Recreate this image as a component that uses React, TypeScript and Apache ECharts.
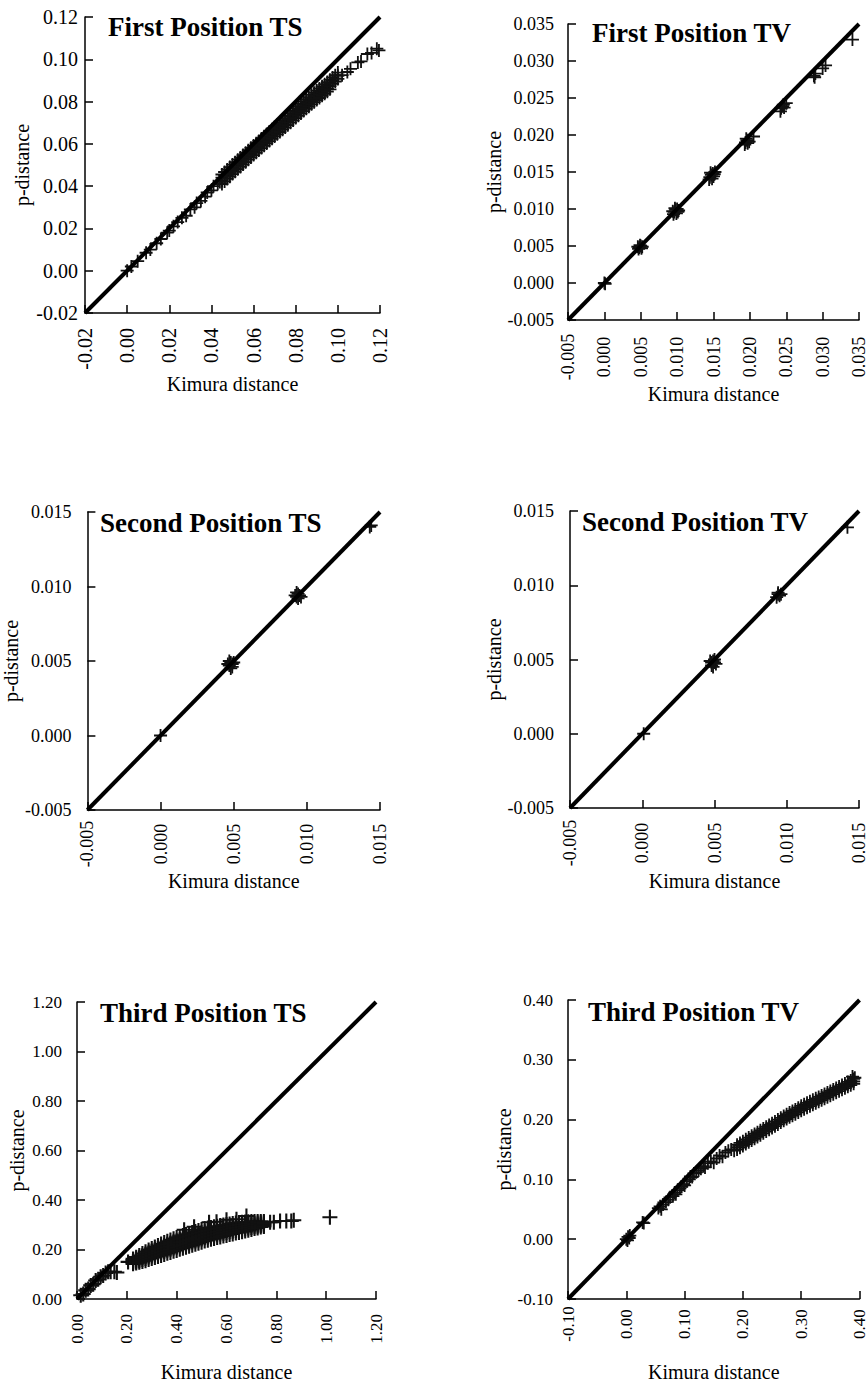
import React, { useEffect, useRef } from "react";
import * as echarts from "echarts";

// ---------- text ----------
const panelTitles = [
  "First Position TS",
  "First Position TV",
  "Second Position TS",
  "Second Position TV",
  "Third Position TS",
  "Third Position TV",
];
const xAxisName = "Kimura distance";
const yAxisName = "p-distance";

// ---------- axis scales (same for x and y in every panel) ----------
const axisMin = [-0.02, -0.005, -0.005, -0.005, 0, -0.1];
const axisMax = [0.12, 0.035, 0.015, 0.015, 1.2, 0.4];
const axisStep = [0.02, 0.005, 0.005, 0.005, 0.2, 0.1];
const labelDecimals = [2, 3, 3, 3, 2, 2];

// ---------- data: [Kimura distance, p-distance] ----------
// isolated points
const firstTSPoints = [
  [0.0, 0.0], [0.002, 0.002], [0.005, 0.0045], [0.009, 0.0085], [0.011, 0.010], [0.014, 0.013],
  [0.016, 0.015], [0.019, 0.018], [0.020, 0.019], [0.022, 0.021], [0.024, 0.023], [0.026, 0.025],
  [0.028, 0.026], [0.030, 0.029], [0.032, 0.030], [0.033, 0.032], [0.035, 0.033], [0.037, 0.035],
  [0.038, 0.037], [0.040, 0.038], [0.041, 0.040], [0.043, 0.041], [0.044, 0.042],
  [0.102, 0.0925], [0.1045, 0.094], [0.106, 0.0955], [0.1095, 0.0985], [0.111, 0.099],
  [0.114, 0.1025], [0.116, 0.103], [0.1185, 0.105], [0.1195, 0.1042],
];
// dense band: [Kimura distance, p-distance values observed at that Kimura distance...]
const firstTSBand = [
  [0.045, 0.0455, 0.044, 0.0425, 0.041],
  [0.04625, 0.0467, 0.0452, 0.0437, 0.0422],
  [0.0475, 0.0479, 0.0464, 0.0449, 0.0434],
  [0.04875, 0.049, 0.0475, 0.046, 0.0445],
  [0.05, 0.0502, 0.0487, 0.0472, 0.0457],
  [0.05125, 0.0513, 0.0498, 0.0483, 0.0468],
  [0.0525, 0.0525, 0.051, 0.0495, 0.048],
  [0.05375, 0.0536, 0.0521, 0.0506, 0.0491],
  [0.055, 0.0547, 0.0532, 0.0517, 0.0502],
  [0.05625, 0.0558, 0.0543, 0.0528, 0.0513],
  [0.0575, 0.057, 0.0555, 0.054, 0.0525],
  [0.05875, 0.0581, 0.0566, 0.0551, 0.0536],
  [0.06, 0.0592, 0.0577, 0.0562, 0.0547],
  [0.06125, 0.0603, 0.0588, 0.0573, 0.0558],
  [0.0625, 0.0614, 0.0599, 0.0584, 0.0569],
  [0.06375, 0.0625, 0.061, 0.0595, 0.058],
  [0.065, 0.0636, 0.0621, 0.0606, 0.0591],
  [0.06625, 0.0647, 0.0632, 0.0617, 0.0602],
  [0.0675, 0.0658, 0.0643, 0.0628, 0.0613],
  [0.06875, 0.0669, 0.0654, 0.0639, 0.0624],
  [0.07, 0.068, 0.0665, 0.065, 0.0635],
  [0.07125, 0.069, 0.0675, 0.066, 0.0645],
  [0.0725, 0.0701, 0.0686, 0.0671, 0.0656],
  [0.07375, 0.0712, 0.0697, 0.0682, 0.0667],
  [0.075, 0.0722, 0.0707, 0.0692, 0.0677],
  [0.07625, 0.0733, 0.0718, 0.0703, 0.0688],
  [0.0775, 0.0745, 0.073, 0.0715, 0.07],
  [0.07875, 0.0756, 0.0741, 0.0726, 0.0711],
  [0.08, 0.0767, 0.0752, 0.0737, 0.0722],
  [0.08125, 0.0778, 0.0763, 0.0748, 0.0733],
  [0.0825, 0.0789, 0.0774, 0.0759, 0.0744],
  [0.08375, 0.08, 0.0785, 0.077, 0.0755],
  [0.085, 0.0811, 0.0796, 0.0781, 0.0766],
  [0.08625, 0.0821, 0.0806, 0.0791, 0.0776],
  [0.0875, 0.0832, 0.0817, 0.0802, 0.0787],
  [0.08875, 0.0842, 0.0827, 0.0812, 0.0797],
  [0.09, 0.0852, 0.0837, 0.0822, 0.0807],
  [0.09125, 0.0862, 0.0847, 0.0832, 0.0817],
  [0.0925, 0.0872, 0.0857, 0.0842, 0.0827],
  [0.09375, 0.0882, 0.0867, 0.0852, 0.0837],
  [0.095, 0.0892, 0.0877, 0.0862, 0.0847],
  [0.09625, 0.0903, 0.0888, 0.0873, 0.0858],
  [0.0975, 0.0914, 0.0899, 0.0884],
  [0.09875, 0.0925, 0.091, 0.0895],
  [0.1, 0.0937, 0.0922, 0.0907],
];

const firstTVPoints = [
  [0.0, 0.0], [0.0001, -0.0001],
  [0.0048, 0.0048], [0.005, 0.005], [0.0047, 0.0046], [0.0051, 0.0047], [0.0049, 0.0051], [0.0052, 0.0049], [0.0046, 0.0049],
  [0.0096, 0.0096], [0.0098, 0.0099], [0.01, 0.01], [0.0095, 0.0093], [0.0099, 0.0094], [0.0102, 0.0098], [0.0097, 0.0101], [0.0101, 0.0096], [0.0094, 0.0097],
  [0.0145, 0.0143], [0.0147, 0.0146], [0.0149, 0.0148], [0.0144, 0.014], [0.0148, 0.0141], [0.0151, 0.0147], [0.0146, 0.0149], [0.015, 0.0144], [0.0152, 0.015],
  [0.0194, 0.019], [0.0196, 0.0193], [0.0193, 0.0187], [0.0197, 0.0189], [0.0195, 0.0195], [0.0205, 0.0198], [0.0199, 0.0191],
  [0.0243, 0.0236], [0.0245, 0.0239], [0.0242, 0.0232], [0.0247, 0.0237], [0.025, 0.0243], [0.0246, 0.0241],
  [0.0288, 0.028], [0.029, 0.0283], [0.0289, 0.0278], [0.03, 0.029], [0.0304, 0.0294],
  [0.0341, 0.0329],
];

const secondTSPoints = [
  [0.0, 0.0],
  [0.0047, 0.0047], [0.0048, 0.0049], [0.0049, 0.0048], [0.0047, 0.005], [0.0049, 0.0046], [0.005, 0.0049], [0.0046, 0.0048], [0.0048, 0.0045],
  [0.0093, 0.0093], [0.0094, 0.0095], [0.0095, 0.0094], [0.0093, 0.0096], [0.0096, 0.0093], [0.0094, 0.0092], [0.0092, 0.0094],
  [0.0143, 0.014], [0.0144, 0.0141],
];

const secondTVPoints = [
  [0.0001, 0.0],
  [0.0048, 0.0048], [0.0049, 0.0049], [0.005, 0.0048], [0.0048, 0.0046], [0.0051, 0.0047], [0.0049, 0.0045], [0.0047, 0.0049], [0.005, 0.005],
  [0.0094, 0.0094], [0.0095, 0.0093], [0.0093, 0.0092], [0.0096, 0.0094], [0.0094, 0.0095],
  [0.0142, 0.0139],
];

const thirdTSPoints = [
  [0.015, 0.015], [0.025, 0.02], [0.035, 0.035], [0.045, 0.04], [0.055, 0.055], [0.065, 0.06], [0.075, 0.075],
  [0.085, 0.08], [0.095, 0.09], [0.105, 0.095], [0.115, 0.105], [0.125, 0.11], [0.135, 0.11], [0.15, 0.11], [0.16, 0.107],
  [0.205, 0.15],
  [0.43, 0.28], [0.47, 0.292], [0.53, 0.31], [0.56, 0.312], [0.6, 0.32], [0.64, 0.322], [0.68, 0.335],
  [0.775, 0.31], [0.79, 0.31], [0.815, 0.315], [0.84, 0.315], [0.86, 0.315], [0.87, 0.318], [1.015, 0.33],
];
const thirdTSBand = [
  [0.225, 0.162, 0.157, 0.152, 0.147, 0.142],
  [0.2375, 0.169, 0.163, 0.157, 0.151, 0.145],
  [0.25, 0.176, 0.169, 0.162, 0.155, 0.148],
  [0.2625, 0.184, 0.176, 0.168, 0.16, 0.152],
  [0.275, 0.191, 0.182, 0.173, 0.164, 0.155],
  [0.2875, 0.198, 0.189, 0.179, 0.17, 0.16],
  [0.3, 0.204, 0.194, 0.184, 0.174, 0.164],
  [0.3125, 0.21, 0.2, 0.189, 0.179, 0.168],
  [0.325, 0.216, 0.205, 0.194, 0.183, 0.172],
  [0.3375, 0.222, 0.211, 0.199, 0.188, 0.176],
  [0.35, 0.228, 0.216, 0.204, 0.192, 0.18],
  [0.3625, 0.233, 0.221, 0.209, 0.197, 0.185],
  [0.375, 0.238, 0.226, 0.213, 0.201, 0.188],
  [0.3875, 0.243, 0.231, 0.218, 0.206, 0.193],
  [0.4, 0.248, 0.235, 0.222, 0.209, 0.196],
  [0.4125, 0.253, 0.24, 0.227, 0.214, 0.201],
  [0.425, 0.257, 0.244, 0.231, 0.218, 0.205],
  [0.4375, 0.261, 0.248, 0.235, 0.222, 0.209],
  [0.45, 0.265, 0.252, 0.239, 0.226, 0.213],
  [0.4625, 0.269, 0.256, 0.243, 0.23, 0.217],
  [0.475, 0.273, 0.26, 0.247, 0.234, 0.221],
  [0.4875, 0.277, 0.264, 0.251, 0.238, 0.225],
  [0.5, 0.281, 0.268, 0.255, 0.242, 0.229],
  [0.5125, 0.284, 0.272, 0.259, 0.247, 0.234],
  [0.525, 0.287, 0.275, 0.262, 0.25, 0.237],
  [0.5375, 0.289, 0.277, 0.265, 0.253, 0.241],
  [0.55, 0.292, 0.28, 0.268, 0.256, 0.244],
  [0.5625, 0.294, 0.283, 0.271, 0.26, 0.248],
  [0.575, 0.297, 0.286, 0.274, 0.263, 0.251],
  [0.5875, 0.299, 0.288, 0.277, 0.266, 0.255],
  [0.6, 0.301, 0.29, 0.279, 0.268, 0.257],
  [0.6125, 0.303, 0.293, 0.282, 0.272, 0.261],
  [0.625, 0.305, 0.295, 0.284, 0.274, 0.263],
  [0.6375, 0.307, 0.297, 0.287, 0.277, 0.267],
  [0.65, 0.309, 0.299, 0.289, 0.279, 0.269],
  [0.6625, 0.31, 0.301, 0.291, 0.282, 0.272],
  [0.675, 0.311, 0.302, 0.293, 0.284, 0.275],
  [0.6875, 0.312, 0.304, 0.295, 0.287, 0.278],
  [0.7, 0.313, 0.305, 0.297, 0.289, 0.281],
  [0.7125, 0.313, 0.306, 0.299, 0.292, 0.285],
  [0.725, 0.313, 0.307, 0.3, 0.294, 0.287],
  [0.7375, 0.313, 0.308, 0.302, 0.297, 0.291],
  [0.75, 0.313, 0.308, 0.303, 0.298, 0.293],
];

const thirdTVPoints = [
  [0.0, 0.0], [0.003, 0.004], [0.005, 0.002], [0.002, -0.002], [0.006, 0.006], [0.028, 0.028], [0.03, 0.027],
  [0.055, 0.052], [0.058, 0.055], [0.06, 0.05], [0.063, 0.058], [0.068, 0.062], [0.072, 0.066], [0.075, 0.07],
  [0.08, 0.072], [0.083, 0.078], [0.085, 0.075], [0.088, 0.082], [0.092, 0.085], [0.095, 0.088], [0.098, 0.092],
  [0.1, 0.09], [0.104, 0.097], [0.108, 0.1], [0.11, 0.105], [0.113, 0.104], [0.116, 0.11], [0.12, 0.112],
  [0.124, 0.115], [0.128, 0.118], [0.132, 0.122], [0.135, 0.12], [0.14, 0.127], [0.145, 0.13], [0.15, 0.128],
  [0.155, 0.135], [0.16, 0.14], [0.165, 0.138], [0.17, 0.145], [0.175, 0.148], [0.18, 0.15], [0.185, 0.148],
  [0.392, 0.27], [0.388, 0.272],
];
const thirdTVBand = [
  [0.19, 0.158, 0.154, 0.15],
  [0.195, 0.161, 0.157, 0.153],
  [0.2, 0.164, 0.16, 0.156],
  [0.205, 0.167, 0.163, 0.159],
  [0.21, 0.17, 0.166, 0.162],
  [0.215, 0.173, 0.169, 0.165],
  [0.22, 0.176, 0.172, 0.168],
  [0.225, 0.179, 0.175, 0.171],
  [0.23, 0.182, 0.178, 0.174],
  [0.235, 0.185, 0.181, 0.177],
  [0.24, 0.188, 0.184, 0.18],
  [0.245, 0.191, 0.187, 0.183],
  [0.25, 0.194, 0.19, 0.186],
  [0.255, 0.197, 0.193, 0.189],
  [0.26, 0.2, 0.196, 0.192],
  [0.265, 0.203, 0.199, 0.195],
  [0.27, 0.206, 0.202, 0.198],
  [0.275, 0.209, 0.205, 0.201],
  [0.28, 0.212, 0.208, 0.204],
  [0.285, 0.2145, 0.2105, 0.2065],
  [0.29, 0.217, 0.213, 0.209],
  [0.295, 0.22, 0.216, 0.212],
  [0.3, 0.223, 0.219, 0.215],
  [0.305, 0.2255, 0.2215, 0.2175],
  [0.31, 0.228, 0.224, 0.22],
  [0.315, 0.2305, 0.2265, 0.2225],
  [0.32, 0.233, 0.229, 0.225],
  [0.325, 0.2355, 0.2315, 0.2275],
  [0.33, 0.238, 0.234, 0.23],
  [0.335, 0.2405, 0.2365, 0.2325],
  [0.34, 0.243, 0.239, 0.235],
  [0.345, 0.2455, 0.2415, 0.2375],
  [0.35, 0.248, 0.244, 0.24],
  [0.355, 0.2505, 0.2465, 0.2425],
  [0.36, 0.253, 0.249, 0.245],
  [0.365, 0.2555, 0.2515, 0.2475],
  [0.37, 0.258, 0.254, 0.25],
  [0.375, 0.2605, 0.2565, 0.2525],
  [0.38, 0.263, 0.259, 0.255],
  [0.385, 0.2655, 0.2615, 0.2575],
  [0.39, 0.268, 0.264, 0.26],
];

// band rows [k, p1, p2, ...] -> points [k, p]
const expandBand = (band: number[][]) =>
  band.flatMap((row) => row.slice(1).map((p) => [row[0], p]));

const panelPoints = [
  [...firstTSPoints, ...expandBand(firstTSBand)],
  firstTVPoints,
  secondTSPoints,
  secondTVPoints,
  [...thirdTSPoints, ...expandBand(thirdTSBand)],
  [...thirdTVPoints, ...expandBand(thirdTVBand)],
];

// ---------- layout / style ----------
const FONT = "'Liberation Serif', 'Times New Roman', Times, serif";
const PLUS =
  "path://M-1.4,-10L1.4,-10L1.4,-1.4L10,-1.4L10,1.4L1.4,1.4L1.4,10L-1.4,10L-1.4,1.4L-10,1.4L-10,-1.4L-1.4,-1.4Z";

const layout = [
  { left: 85, top: 17, width: 295, height: 296, labelSize: 20, yMargin: 7, xMargin: 15, xAlign: undefined, yNameGap: 48, xNameGap: 60, tLeft: 108, tTop: 13, sym: 13 },
  { left: 568, top: 24, width: 294, height: 296, labelSize: 18, yMargin: 14, xMargin: 37, xAlign: "center", yNameGap: 51, xNameGap: 60, tLeft: 592, tTop: 19, sym: 13 },
  { left: 85, top: 512, width: 295, height: 298, labelSize: 18, yMargin: 16, xMargin: 34, xAlign: "center", yNameGap: 56, xNameGap: 61, tLeft: 100, tTop: 509, sym: 13 },
  { left: 570, top: 511, width: 294, height: 297, labelSize: 18, yMargin: 16, xMargin: 35, xAlign: "center", yNameGap: 51, xNameGap: 63, tLeft: 582, tTop: 508, sym: 13 },
  { left: 77, top: 1002, width: 299, height: 298, labelSize: 17, yMargin: 15, xMargin: 15, xAlign: undefined, yNameGap: 50, xNameGap: 63, tLeft: 100, tTop: 999, sym: 15 },
  { left: 568, top: 1000, width: 298, height: 299, labelSize: 17, yMargin: 15, xMargin: 25, xAlign: "center", yNameGap: 51, xNameGap: 63, tLeft: 588, tTop: 998, sym: 13 },
];

function fmt(d: number) {
  return (v: number) => (Math.abs(v) < 1e-9 ? 0 : v).toFixed(d);
}

function buildOption() {
  const axisCommon = (i: number) => ({
    gridIndex: i,
    type: "value" as const,
    min: axisMin[i],
    max: axisMax[i],
    interval: axisStep[i],
    splitLine: { show: false },
    axisLine: { show: true, onZero: false, lineStyle: { color: "#000", width: 1.5 } },
    axisTick: { show: true, inside: true, length: 8, lineStyle: { color: "#000", width: 1.5 } },
    nameLocation: "middle" as const,
    nameTextStyle: { fontFamily: FONT, fontSize: 20, color: "#000" },
  });

  return {
    animation: false,
    backgroundColor: "#fff",
    title: layout.map((l, i) => ({
      text: panelTitles[i],
      left: l.tLeft,
      top: l.tTop,
      padding: 0,
      textStyle: { fontFamily: FONT, fontWeight: "bold", fontSize: 27, color: "#000" },
    })),
    grid: layout.map((l) => ({
      left: l.left,
      top: l.top,
      width: l.width,
      height: l.height,
      containLabel: false,
    })),
    xAxis: layout.map((l, i) => ({
      ...axisCommon(i),
      name: xAxisName,
      nameGap: l.xNameGap,
      axisLabel: {
        rotate: 90,
        margin: l.xMargin,
        ...(l.xAlign ? { align: l.xAlign, verticalAlign: "middle" } : {}),
        color: "#000",
        fontFamily: FONT,
        fontSize: l.labelSize,
        showMinLabel: true,
        showMaxLabel: true,
        formatter: fmt(labelDecimals[i]),
      },
    })),
    yAxis: layout.map((l, i) => ({
      ...axisCommon(i),
      name: yAxisName,
      nameGap: l.yNameGap,
      nameRotate: 90,
      axisLabel: {
        margin: l.yMargin,
        color: "#000",
        fontFamily: FONT,
        fontSize: l.labelSize,
        showMinLabel: true,
        showMaxLabel: true,
        formatter: fmt(labelDecimals[i]),
      },
    })),
    series: [
      ...panelPoints.map((pts, i) => ({
        type: "scatter",
        xAxisIndex: i,
        yAxisIndex: i,
        data: pts,
        symbol: PLUS,
        symbolSize: layout[i].sym,
        itemStyle: { color: "#111", opacity: 1 },
        silent: true,
        large: false,
        z: 2,
      })),
      ...panelPoints.map((_, i) => ({
        type: "line",
        xAxisIndex: i,
        yAxisIndex: i,
        data: [
          [axisMin[i], axisMin[i]],
          [axisMax[i], axisMax[i]],
        ],
        symbol: "none",
        lineStyle: { color: "#000", width: 4 },
        silent: true,
        z: 3,
      })),
    ],
  };
}

export default function App() {
  const ref = useRef<HTMLDivElement>(null);
  useEffect(() => {
    if (!ref.current) return;
    const chart = echarts.init(ref.current, undefined, { renderer: "svg" });
    chart.setOption(buildOption() as any);
    return () => chart.dispose();
  }, []);
  return (
    <div
      ref={ref}
      style={{ position: "absolute", left: 0, top: 0, width: 868, height: 1383, background: "#fff" }}
    />
  );
}
